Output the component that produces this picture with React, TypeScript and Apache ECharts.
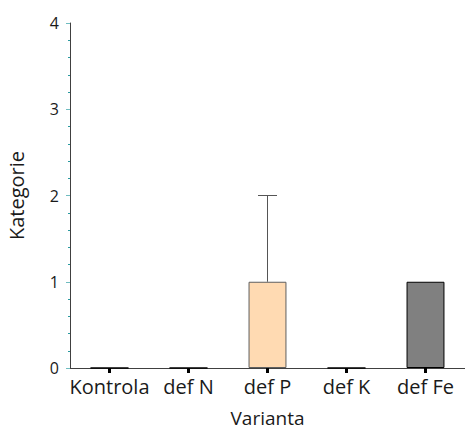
import React, { useEffect, useRef } from "react";
import * as echarts from "echarts";

const categories = ["Kontrola", "def N", "def P", "def K", "def Fe"];
const values = [0, 0, 1, 0, 1];
const errUpper = [0, 0, 2, 0, 1];
const fills = ["#ffffff", "#ffffff", "#ffdab2", "#ffffff", "#808080"];
const borders = ["#000000", "#000000", "#5f5f5f", "#000000", "#000000"];
const yTicks = [0, 1, 2, 3, 4];

export default function App() {
  const ref = useRef<HTMLDivElement>(null);
  useEffect(() => {
    const chart = echarts.init(ref.current!, null, { renderer: "svg" });
    const font = "'Open Sans', 'Noto Sans', sans-serif";
    chart.setOption({
      animation: false,
      backgroundColor: "#ffffff",
      grid: { left: 70, right: 0, top: 23, bottom: 64, containLabel: false, outerBoundsMode: "none" },
      xAxis: {
        type: "category",
        data: categories,
        name: "Varianta",
        nameLocation: "middle",
        nameGap: 40,
        nameTextStyle: { fontFamily: font, fontSize: 19, color: "#1a1a1a" },
        axisLine: { lineStyle: { color: "#404040", width: 1 } },
        axisTick: { show: true, alignWithLabel: true, length: 5, lineStyle: { color: "#000", width: 3 } },
        axisLabel: { fontFamily: font, fontSize: 20, color: "#1a1a1a", margin: 8, interval: 0 },
      },
      yAxis: {
        type: "value",
        min: 0,
        max: 4,
        interval: 1,
        name: "Kategorie",
        nameLocation: "middle",
        nameGap: 44,
        nameTextStyle: { fontFamily: font, fontSize: 20, color: "#1a1a1a" },
        axisLine: { show: true, lineStyle: { color: "#404040", width: 1 } },
        axisTick: { show: true, length: 4, lineStyle: { color: "#6fbcc0", width: 1 } },
        minorTick: { show: true, splitNumber: 5, length: 2, lineStyle: { color: "#2a9aa0", width: 1 } },
        splitLine: { show: false },
        axisLabel: {
          fontFamily: font,
          fontSize: 16,
          color: "#1a1a1a",
          margin: 11,
          formatter: (v: number) => (yTicks.includes(v) ? String(v) : ""),
        },
      },
      series: [
        {
          type: "bar",
          barWidth: "48%",
          data: values.map((v, i) => ({
            value: v,
            itemStyle: { color: fills[i], borderColor: borders[i], borderWidth: 1 },
          })),
          z: 2,
        },
        {
          type: "custom",
          z: 3,
          data: categories.map((_, i) => [i, values[i], errUpper[i]]),
          renderItem: (params: any, api: any) => {
            const idx = api.value(0);
            const lo = api.value(1);
            const hi = api.value(2);
            if (hi <= lo) return null;
            const p0 = api.coord([idx, lo]);
            const p1 = api.coord([idx, hi]);
            const hw = 9.5;
            return {
              type: "group",
              children: [
                { type: "line", shape: { x1: p0[0], y1: p0[1], x2: p1[0], y2: p1[1] }, style: { stroke: "#555", lineWidth: 1 } },
                { type: "line", shape: { x1: p1[0] - hw, y1: p1[1], x2: p1[0] + hw, y2: p1[1] }, style: { stroke: "#555", lineWidth: 1 } },
              ],
            };
          },
        },
      ],
    });
    return () => chart.dispose();
  }, []);
  return <div ref={ref} style={{ width: 465, height: 432, position: "absolute", left: 0, top: 0 }} />;
}
